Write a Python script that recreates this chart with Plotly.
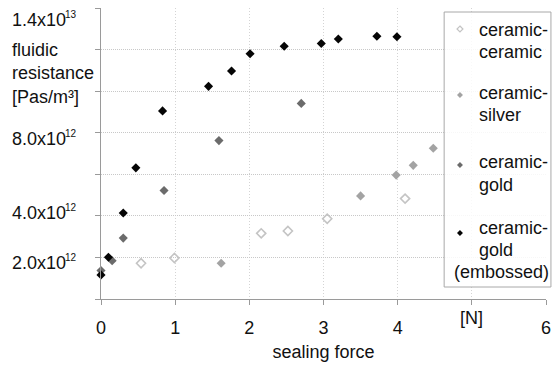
import plotly.graph_objects as go

# Sealing force [N] and fluidic resistance [Pa s / m^3] per material pairing
cc_force = [0.54, 0.99, 2.16, 2.52, 3.05, 4.10]
cc_res = [1.72e12, 1.97e12, 3.16e12, 3.27e12, 3.86e12, 4.83e12]

cs_force = [1.62, 3.50, 3.98, 4.21, 4.48]
cs_res = [1.72e12, 4.96e12, 5.96e12, 6.43e12, 7.25e12]

cg_force = [0.0, 0.15, 0.30, 0.85, 1.59, 2.70]
cg_res = [1.37e12, 1.84e12, 2.93e12, 5.22e12, 7.62e12, 9.41e12]

ce_force = [0.0, 0.10, 0.30, 0.47, 0.83, 1.45, 1.76, 2.01, 2.47, 2.97, 3.20, 3.72, 3.99]
ce_res = [1.16e12, 2.01e12, 4.14e12, 6.31e12, 9.05e12, 10.23e12, 10.97e12,
          11.80e12, 12.16e12, 12.29e12, 12.51e12, 12.64e12, 12.62e12]

x_ticks = [0, 1, 2, 3, 4, 5, 6]
x_ticktext = ["0", "1", "2", "3", "4", "", "6"]
y_label_mant = ["1.4x10", "8.0x10", "4.0x10", "2.0x10"]
y_label_exp = ["13", "12", "12", "12"]
y_title_lines = ["fluidic", "resistance", "[Pas/m³]"]
legend_names = [["ceramic-", "ceramic"], ["ceramic-", "silver"],
                ["ceramic-", "gold"], ["ceramic-", "gold", "(embossed)"]]

FONT = "Liberation Sans, Arial, Helvetica, sans-serif"
TXT = "#111111"
W, H = 559, 366
ML, MR, MT, MB = 101, 8, 8, 67
PW, PH = W - ML - MR, H - MT - MB


def px(x):
    return (x - ML) / PW


def py(y):
    return (H - MB - y) / PH


styles = [
    dict(symbol="diamond-open", color="#c4c4c4", size=7,
         line=dict(width=1.6, color="#c4c4c4")),
    dict(symbol="diamond", color="#a3a3a3", size=7, line=dict(width=0)),
    dict(symbol="diamond", color="#6b6b6b", size=7, line=dict(width=0)),
    dict(symbol="diamond", color="#050505", size=7, line=dict(width=0)),
]
data = [(cc_force, cc_res), (cs_force, cs_res), (cg_force, cg_res),
        (ce_force, ce_res)]

fig = go.Figure()
for (xs, ys), mk in zip(data, styles):
    fig.add_trace(go.Scatter(x=xs, y=ys, mode="markers", marker=mk,
                             cliponaxis=False, showlegend=False))

fig.update_layout(
    width=W, height=H, autosize=False,
    margin=dict(l=ML, r=MR, t=MT, b=MB),
    paper_bgcolor="white", plot_bgcolor="white",
    font=dict(family=FONT, size=18, color=TXT),
    xaxis=dict(range=[0, 6], tickvals=x_ticks, ticktext=x_ticktext,
               showgrid=True, gridcolor="#d4d4d4", griddash="1px,2px", gridwidth=1,
               showline=True, linecolor="#9a9a9a", linewidth=1,
               ticks="outside", ticklen=5, tickcolor="#9a9a9a",
               ticklabelstandoff=7,
               zeroline=False, tickfont=dict(size=18, color=TXT),
               title=dict(text="sealing force", font=dict(size=18), standoff=8)),
    yaxis=dict(range=[0, 1.4e13], dtick=2e12, tick0=0,
               showticklabels=False,
               showgrid=True, gridcolor="#c8c8c8", griddash="1px,1px", gridwidth=1,
               showline=True, linecolor="#9a9a9a", linewidth=1,
               ticks="outside", ticklen=5, tickcolor="#9a9a9a",
               zeroline=False),
)

ann = []
shapes = []


def text_at(txt, x, y, anchor="left", size=18, color=TXT):
    ann.append(dict(text=txt, x=px(x), y=py(y), xref="paper", yref="paper",
                    xanchor=anchor, yanchor="middle", showarrow=False,
                    font=dict(size=size, color=color, family=FONT)))


# y tick labels at the figure edge, exponent set as a small raised number
for mant, ex, yc in zip(y_label_mant, y_label_exp, [20, 139, 213, 263]):
    text_at(mant, 9, yc)
    text_at(ex, 63, yc - 6, size=10)

# y axis title, one line per annotation
for line, yc in zip(y_title_lines, [50, 73, 97]):
    text_at(line, 9, yc)

# unit marker on the x axis
ann.append(dict(text="[N]", x=5, y=py(318), xref="x", yref="paper",
                xanchor="center", yanchor="middle", showarrow=False,
                font=dict(size=18)))

# legend frame
shapes.append(dict(type="rect", xref="paper", yref="paper",
                   x0=px(448), x1=px(556), y0=py(287), y1=py(12),
                   line=dict(color="#a8a8a8", width=1),
                   fillcolor="rgba(255,255,255,0.85)", layer="above"))

# legend glyphs (small diamonds) and labels
legend_sym_y = [29, 95, 165, 233]
legend_line_y = [[30, 52], [93, 115], [162, 185], [228, 250, 272]]
for mk, ysym, names, ys in zip(styles, legend_sym_y, legend_names, legend_line_y):
    r = 3
    path = (f"M {px(464)},{py(ysym - r)} L {px(464 + r)},{py(ysym)} "
            f"L {px(464)},{py(ysym + r)} L {px(464 - r)},{py(ysym)} Z")
    is_open = mk["symbol"].endswith("open")
    shapes.append(dict(type="path", path=path, xref="paper", yref="paper",
                       layer="above",
                       fillcolor="white" if is_open else mk["color"],
                       line=dict(color=mk["color"], width=1.2 if is_open else 0)))
    for name, yc in zip(names, ys):
        if name.startswith("("):
            text_at(name, 556, yc, anchor="right")
        else:
            text_at(name, 481, yc)

fig.update_layout(annotations=ann, shapes=shapes)

fig.write_html("out.html")
